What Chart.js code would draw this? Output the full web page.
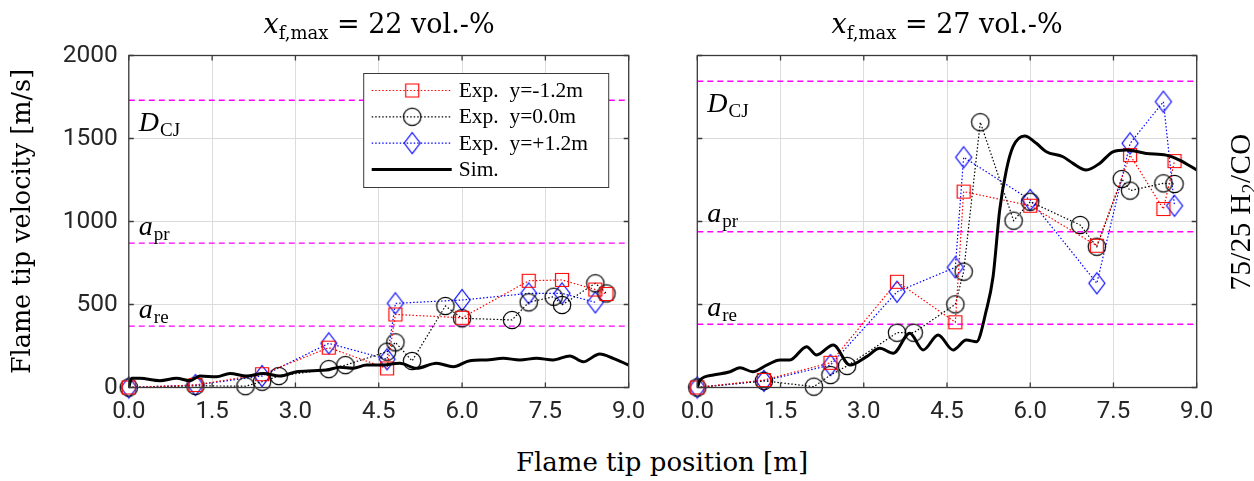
<!DOCTYPE html>
<html>
<head>
<meta charset="utf-8">
<script src="https://cdn.jsdelivr.net/npm/chart.js@4.4.1/dist/chart.umd.min.js"></script>
<style>
  html, body { margin: 0; padding: 0; background: #fff; }
  #fig { position: relative; width: 1254px; height: 481px; overflow: hidden; }
  canvas { position: absolute; top: 0; }
  .t { position: absolute; font-family: 'DejaVu Serif'; color: #000; white-space: nowrap; text-align: center; }
  .sub { font-size: 18px; position: relative; top: 6px; }
</style>
</head>
<body>
<div id="fig">
  <canvas id="c22" width="660" height="430" style="left:0"></canvas>
  <canvas id="c27" width="604" height="430" style="left:650px"></canvas>
  <div class="t" style="left:129px;width:500px;top:7px;font-size:27px;line-height:34px"><i>x</i><span class="sub">f,max</span> = 22 vol.-%</div>
  <div class="t" style="left:697px;width:500px;top:7px;font-size:27px;line-height:34px"><i>x</i><span class="sub">f,max</span> = 27 vol.-%</div>
  <div class="t" style="left:412px;width:500px;top:446px;font-size:26px;line-height:32px">Flame tip position [m]</div>
  <div class="t" style="left:1140px;width:200px;top:196px;height:32px;font-family:'Liberation Serif';font-size:29px;line-height:32px;letter-spacing:0.4px;transform:rotate(-90deg)">75/25 H<span class="sub" style="font-size:20px;top:6px">2</span>/CO</div>
</div>
<script>
// axis ticks shared by both panels
const tickX = [0, 1.5, 3.0, 4.5, 6.0, 7.5, 9.0];
const tickY = [0, 500, 1000, 1500, 2000];

// x_f,max = 22 vol.-%
const redX22 = [0, 1.2, 2.4, 3.6, 4.65, 4.8, 6.0, 7.2, 7.8, 8.4, 8.6];
const redV22 = [0, 15, 80, 240, 115, 440, 420, 643, 648, 590, 563];
const blackX22 = [0, 1.2, 2.1, 2.4, 2.7, 3.6, 3.9, 4.65, 4.8, 5.1, 5.7, 6.0, 6.9, 7.2, 7.65, 7.8, 8.4, 8.6];
const blackV22 = [0, 10, 8, 35, 69, 111, 135, 216, 272, 160, 491, 417, 407, 513, 547, 497, 628, 567];
const blueX22 = [0, 1.2, 2.4, 3.6, 4.65, 4.8, 6.0, 7.2, 7.8, 8.4];
const blueV22 = [0, 15, 69, 266, 170, 507, 527, 567, 567, 513];
const simX22 = [0, 0.05, 0.2, 0.56, 0.86, 1.1, 1.28, 1.58, 1.82, 2.12, 2.42, 2.72, 3.02, 3.32, 3.56, 3.8, 4.04,
  4.28, 4.52, 4.88, 5.18, 5.54, 5.84, 6.14, 6.44, 6.74, 7.04, 7.34, 7.64, 7.94, 8.18, 8.48, 8.72, 9.0];
const simV22 = [0, 55, 55, 41, 55, 41, 69, 65, 85, 69, 85, 69, 95, 101, 105, 122, 116,
  135, 135, 146, 116, 146, 125, 161, 166, 176, 166, 176, 166, 190, 155, 202, 176, 135];
const refV22 = [1730, 870, 370];      // D_CJ, a_pr, a_re

// x_f,max = 27 vol.-%
const redX27 = [0, 1.2, 2.4, 3.6, 4.65, 4.8, 6.0, 7.2, 7.8, 8.4, 8.6];
const redV27 = [0, 45, 149, 637, 393, 1180, 1095, 854, 1400, 1075, 1364];
const blackX27 = [0, 1.2, 2.1, 2.4, 2.7, 3.6, 3.9, 4.65, 4.8, 5.1, 5.7, 6.0, 6.9, 7.2, 7.65, 7.8, 8.4, 8.6];
const blackV27 = [0, 40, 5, 75, 130, 330, 330, 501, 698, 1598, 1005, 1119, 979, 848, 1256, 1186, 1230, 1226];
const blueX27 = [0, 1.2, 2.4, 3.6, 4.65, 4.8, 6.0, 7.2, 7.8, 8.4, 8.6];
const blueV27 = [0, 40, 135, 577, 724, 1387, 1130, 628, 1471, 1722, 1095];
const simX27 = [0, 0.05, 0.29, 0.59, 0.77, 1.0, 1.25, 1.49, 1.67, 1.97, 2.15, 2.45, 2.75, 3.05, 3.29, 3.53, 3.83,
  4.07, 4.34, 4.61, 4.85, 5.03, 5.21, 5.33, 5.45, 5.57, 5.69, 5.9, 6.11, 6.29, 6.59, 6.77, 7.01, 7.25, 7.49,
  7.73, 8.09, 8.45, 8.69, 9.0];
const simV27 = [0, 45, 75, 95, 119, 95, 135, 166, 166, 246, 196, 256, 135, 186, 236, 206, 327,
  226, 316, 226, 286, 276, 467, 667, 1069, 1310, 1451, 1515, 1471, 1420, 1390, 1350, 1310, 1350, 1420,
  1431, 1410, 1400, 1370, 1310];
const refV27 = [1845, 938, 381];

const refNames = [['D', 'CJ'], ['a', 'pr'], ['a', 're']];
const seriesNames = ['Exp.  y=-1.2m', 'Exp.  y=0.0m', 'Exp.  y=+1.2m', 'Sim.'];

const PLOT_TOP = 55.5, PLOT_BOTTOM = 387.5, CANVAS_H = 430;

function marker(shape, color) {
  const c = document.createElement('canvas');
  c.width = 22; c.height = 24;
  const g = c.getContext('2d');
  g.strokeStyle = color;
  g.lineWidth = 1.2;
  g.beginPath();
  if (shape === 'square') g.rect(11 - 6.5, 12 - 6.5, 13, 13);
  else if (shape === 'circle') g.arc(11, 12, 8.7, 0, Math.PI * 2);
  else {
    g.moveTo(11, 1.5); g.lineTo(19, 12); g.lineTo(11, 22.5); g.lineTo(3, 12); g.closePath();
  }
  g.stroke();
  return c;
}
const mSquare = marker('square', '#ff0000');
const mCircle = marker('circle', '#000000');
const mDiamond = marker('diamond', '#0000ff');

function pts(xs, vs) {
  return xs.map((x, i) => ({ x: x, y: vs[i] }));
}

function expSet(label, xs, vs, color, style) {
  return {
    label: label, data: pts(xs, vs), showLine: true,
    borderColor: color, borderWidth: 1.2, borderDash: [1.5, 2],
    pointStyle: style, pointRadius: 10, tension: 0, clip: false, order: 1
  };
}

function refSet(v) {
  return {
    data: [{ x: 0, y: v }, { x: 9, y: v }], showLine: true,
    borderColor: '#ff00ff', borderWidth: 1.4, borderDash: [6, 4],
    pointRadius: 0, order: 3
  };
}

// box, inward ticks and the D_CJ / a_pr / a_re labels
const frame = {
  id: 'frame',
  afterDraw(chart, args, opts) {
    const { ctx, chartArea: a, scales: { x, y } } = chart;
    ctx.save();
    ctx.strokeStyle = '#3a3a3a';
    ctx.lineWidth = 1.3;
    ctx.beginPath();
    tickX.forEach(v => {
      const p = x.getPixelForValue(v);
      ctx.moveTo(p, a.bottom); ctx.lineTo(p, a.bottom - 5);
      ctx.moveTo(p, a.top); ctx.lineTo(p, a.top + 5);
    });
    tickY.forEach(v => {
      const p = y.getPixelForValue(v);
      ctx.moveTo(a.left, p); ctx.lineTo(a.left + 5, p);
      ctx.moveTo(a.right, p); ctx.lineTo(a.right - 5, p);
    });
    ctx.stroke();
    ctx.strokeRect(a.left, a.top, a.width, a.height);

    ctx.fillStyle = '#000';
    ctx.textBaseline = 'alphabetic';
    opts.labels.forEach((v, i) => {
      const px = x.getPixelForValue(0.18);
      const py = y.getPixelForValue(v) + 9;
      ctx.font = 'italic 28px "Liberation Serif"';
      ctx.fillText(refNames[i][0], px, py);
      const w = ctx.measureText(refNames[i][0]).width;
      ctx.font = '19px "Liberation Serif"';
      ctx.fillText(refNames[i][1], px + w + 1, py + 5);
    });
    ctx.restore();
  }
};

// legend box inside the left panel
const boxLegend = {
  id: 'boxLegend',
  afterDraw(chart) {
    const { ctx, chartArea: a } = chart;
    const bx = a.right - 265, by = a.top + 18, bw = 245, bh = 114;
    ctx.save();
    ctx.fillStyle = '#fff';
    ctx.fillRect(bx, by, bw, bh);
    ctx.strokeStyle = '#3a3a3a';
    ctx.lineWidth = 1;
    ctx.strokeRect(bx, by, bw, bh);
    const colors = ['#ff0000', '#000000', '#0000ff', '#000000'];
    const marks = [mSquare, mCircle, mDiamond, null];
    seriesNames.forEach((name, i) => {
      const ry = by + 17 + i * 26.3;
      ctx.strokeStyle = colors[i];
      ctx.lineWidth = marks[i] ? 1.2 : 3;
      ctx.setLineDash(marks[i] ? [1.5, 2] : []);
      ctx.beginPath();
      ctx.moveTo(bx + 8, ry); ctx.lineTo(bx + 88, ry);
      ctx.stroke();
      if (marks[i]) ctx.drawImage(marks[i], bx + 48.5 - 11, ry - 12);
      ctx.setLineDash([]);
      ctx.fillStyle = '#000';
      ctx.font = '21.5px "Liberation Serif"';
      ctx.textBaseline = 'middle';
      ctx.fillText(name, bx + 95, ry + 1);
    });
    ctx.restore();
  }
};

function makeChart(id, sets, refs, yWidth, padRight, showY, extra) {
  return new Chart(document.getElementById(id), {
    type: 'scatter',
    data: {
      datasets: [
        { ...sets.sim },
        expSet(seriesNames[0], sets.rx, sets.rv, '#ff0000', mSquare),
        expSet(seriesNames[1], sets.kx, sets.kv, '#000000', mCircle),
        expSet(seriesNames[2], sets.bx, sets.bv, '#0000ff', mDiamond),
        ...refs.map(refSet)
      ]
    },
    options: {
      responsive: false,
      animation: false,
      events: [],
      layout: { padding: { top: PLOT_TOP, right: padRight, left: 0, bottom: 0 } },
      plugins: { legend: { display: false }, tooltip: { enabled: false }, frame: { labels: extra } },
      scales: {
        x: {
          type: 'linear', min: 0, max: 9,
          afterBuildTicks: s => { s.ticks = tickX.map(v => ({ value: v })); },
          afterFit: s => { s.height = CANVAS_H - PLOT_BOTTOM; },
          ticks: { callback: v => v.toFixed(1), color: '#262626', padding: 10, maxRotation: 0,
            font: { family: 'Roboto', size: 24 } },
          grid: { color: '#dcdcdc', drawTicks: false },
          border: { display: false }
        },
        y: {
          type: 'linear', min: 0, max: 2000,
          afterBuildTicks: s => { s.ticks = tickY.map(v => ({ value: v })); },
          afterFit: s => { s.width = yWidth; },
          ticks: { display: showY, callback: v => String(v), color: '#262626', padding: 11,
            font: { family: 'Roboto', size: 24.5 } },
          grid: { color: '#dcdcdc', drawTicks: false },
          border: { display: false },
          title: { display: showY, text: 'Flame tip velocity [m/s]', color: '#000',
            padding: { top: 8, bottom: 0 }, font: { family: 'DejaVu Serif', size: 25.5 } }
        }
      }
    },
    plugins: showY ? [frame, boxLegend] : [frame]
  });
}

function simSet(xs, vs) {
  return {
    label: seriesNames[3], data: pts(xs, vs), showLine: true,
    borderColor: '#000', borderWidth: 3, pointRadius: 0,
    cubicInterpolationMode: 'monotone', order: 0
  };
}

makeChart('c22', {
  sim: simSet(simX22, simV22),
  rx: redX22, rv: redV22, kx: blackX22, kv: blackV22, bx: blueX22, bv: blueV22
}, refV22, 128.8, 660 - 628.7, true, [1600, 970, 470]);

makeChart('c27', {
  sim: simSet(simX27, simV27),
  rx: redX27, rv: redV27, kx: blackX27, kv: blackV27, bx: blueX27, bv: blueV27
}, refV27, 47.3, 604 - 546.7, false, [1714, 1051, 485]);
</script>
</body>
</html>
